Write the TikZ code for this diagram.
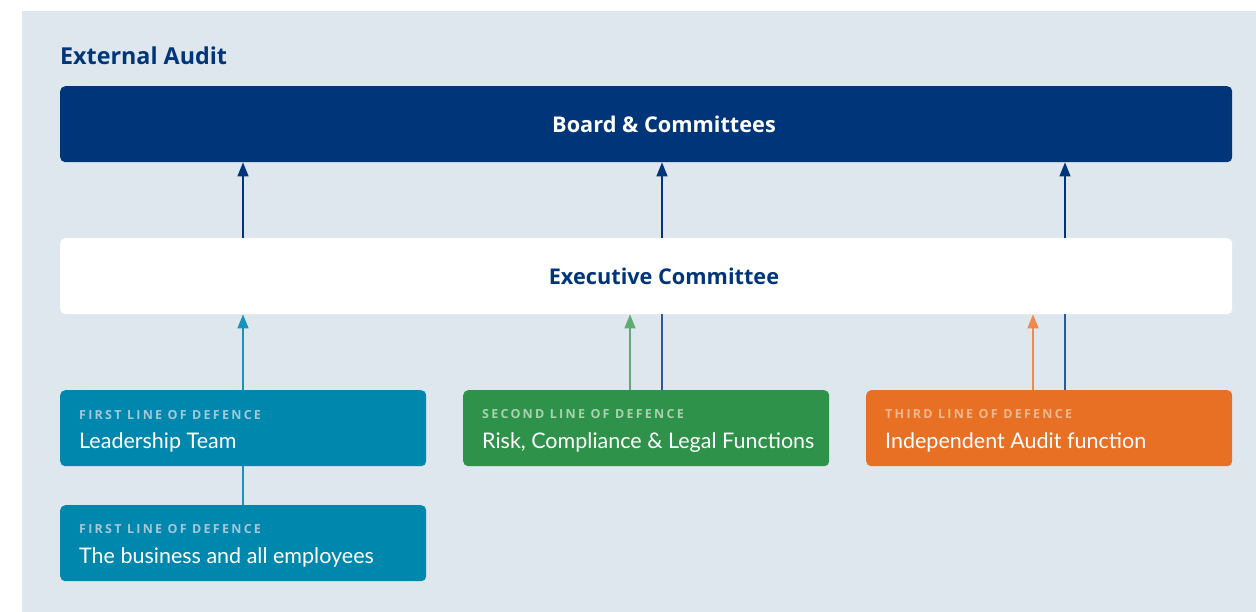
\documentclass[tikz,border=0pt]{standalone}
\usepackage{fontspec}
\setmainfont{Lato}
\newfontfamily\head{Open Sans}
\newfontfamily\spaced[LetterSpace=18]{Open Sans}
\usetikzlibrary{arrows.meta}
\definecolor{bgc}{HTML}{DEE7EE}
\definecolor{navy}{HTML}{003679}
\definecolor{teal}{HTML}{0087AE}
\definecolor{tealL}{HTML}{A3C8D8}
\definecolor{grn}{HTML}{2E924A}
\definecolor{grnL}{HTML}{A9D2AE}
\definecolor{org}{HTML}{E87025}
\definecolor{orgL}{HTML}{F4B68C}
\definecolor{tealA}{HTML}{1993B8}
\definecolor{grnA}{HTML}{5BAE6F}
\definecolor{orgA}{HTML}{EE8A4D}
\definecolor{navyA}{HTML}{2A5A98}
\tikzset{
  wide/.style={rounded corners=5pt, minimum width=1172pt, minimum height=76pt, inner sep=0pt},
  linebox/.style={rounded corners=5pt, minimum width=366pt, minimum height=76pt, inner sep=0pt},
  lbl/.style={anchor=base west, inner sep=0pt, font=\spaced\bfseries\fontsize{12.5}{14}\selectfont},
  main/.style={anchor=base west, inner sep=0pt, font=\fontsize{21.5}{24}\selectfont, text=white},
  headf/.style={font=\head\bfseries\fontsize{21.7}{24}\selectfont},
  up/.style={-{Triangle[length=14pt,width=11pt]}, line width=1.4pt},
}
\begin{document}
\begin{tikzpicture}[x=1pt,y=-1pt]
\useasboundingbox (0,0) rectangle (1256,612);
\fill[white] (0,0) rectangle (1256,612);
\fill[bgc] (22,11) rectangle (1256,612);
\node[anchor=base west, inner sep=0pt, text=navy, font=\head\bfseries\fontsize{23.3}{26}\selectfont] (ext) at (60,65) {External Audit};
\node[wide, fill=navy, anchor=north west] (board) at (60,86) {};
\node[text=white, headf] (boardt) at (664,124) {Board \& Committees};
\node[wide, fill=white, anchor=north west] (exec) at (60,238) {};
\node[text=navy, headf] (exect) at (664,276) {Executive Committee};

\node[linebox, fill=teal, anchor=north west] (lead) at (60,390) {};
\node[lbl, text=tealL] (leadl) at (79,419) {FIRST LINE OF DEFENCE};
\node[main] (leadm) at (79,448) {Leadership Team};
\node[linebox, fill=teal, anchor=north west] (bus) at (60,505) {};
\node[lbl, text=tealL] (busl) at (79,533) {FIRST LINE OF DEFENCE};
\node[main] (busm) at (79,563) {The business and all employees};

\node[linebox, fill=grn, anchor=north west] (risk) at (463,390) {};
\node[lbl, text=grnL] (riskl) at (482,418) {SECOND LINE OF DEFENCE};
\node[main] (riskm) at (482,448) {Risk, Compliance \& Legal Functions};

\node[linebox, fill=org, anchor=north west] (aud) at (866,390) {};
\node[lbl, text=orgL] (audl) at (885,418) {THIRD LINE OF DEFENCE};
\node[main] (audm) at (885,448) {Independent Audit function};

% connectors
\draw[up, navy] (exec.north -| 243,0) -- (board.south -| 243,0);
\draw[up, navy] (exec.north -| 662,0) -- (board.south -| 662,0);
\draw[up, navy] (exec.north -| 1065,0) -- (board.south -| 1065,0);
\draw[up, tealA] (lead.north -| 243,0) -- (exec.south -| 243,0);
\draw[line width=1.4pt, tealA] (bus.north -| 243,0) -- (lead.south -| 243,0);
\draw[up, grnA] (risk.north -| 630,0) -- (exec.south -| 630,0);
\draw[line width=1.4pt, navyA] (risk.north -| 662,0) -- (exec.south -| 662,0);
\draw[up, orgA] (aud.north -| 1033,0) -- (exec.south -| 1033,0);
\draw[line width=1.4pt, navyA] (aud.north -| 1065,0) -- (exec.south -| 1065,0);
\end{tikzpicture}
\end{document}
